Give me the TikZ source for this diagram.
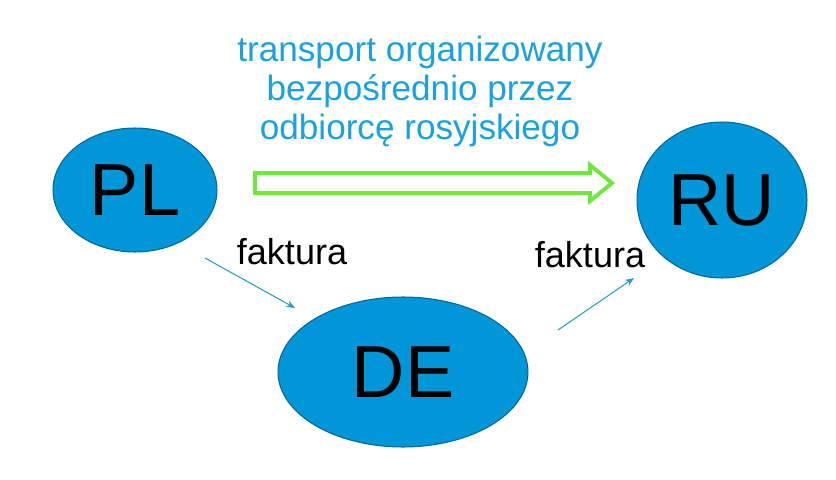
\documentclass[tikz,border=0pt]{standalone}
\usepackage{fontspec}
\setmainfont{Liberation Sans}
\usetikzlibrary{arrows.meta,shapes.geometric}
\definecolor{ell}{HTML}{0096D8}
\definecolor{ttl}{HTML}{1BA0E0}
\definecolor{grn}{HTML}{6EE83C}
\definecolor{arr}{HTML}{2A9CC4}
\tikzset{
  country/.style={ellipse,fill=ell,draw=ell!70!black,line width=0.6pt,font=\fontsize{42}{42}\selectfont,inner sep=0pt},
  lab/.style={font=\fontsize{20.5}{20.5}\selectfont},
  thin arrow/.style={draw=arr,line width=0.6pt,-{Stealth[length=5pt,width=4pt]}}
}
\begin{document}
\begin{tikzpicture}[x=0.02cm,y=-0.02cm]
\useasboundingbox (0,0) rectangle (836,480);
\node[country,minimum width=3.28cm,minimum height=2.48cm] (pl) at (135,190) {PL};
\node[country,minimum width=3.4cm,minimum height=3.12cm] (ru) at (722,200) {RU};
\node[country,minimum width=5cm,minimum height=3cm] (de) at (403,372) {DE};
\node[text=ttl,align=center,font=\fontsize{20}{22.2}\selectfont] (title) at (420,91) {transport organizowany\\bezpośrednio przez\\odbiorcę rosyjskiego};
\draw[grn,line width=2.2pt,line join=miter] (255,173) -- (590,173) -- (590,165) -- (612,183) -- (590,201) -- (590,193) -- (255,193) -- cycle;
\node[lab] (f1) at (292,252) {faktura};
\node[lab] (f2) at (590,255) {faktura};
\coordinate (a1) at (205,258);
\coordinate (b1) at (295,308);
\coordinate (a2) at (558,330);
\coordinate (b2) at (634,278);
\draw[thin arrow] (a1) -- (b1);
\draw[thin arrow] (a2) -- (b2);
\end{tikzpicture}
\end{document}
